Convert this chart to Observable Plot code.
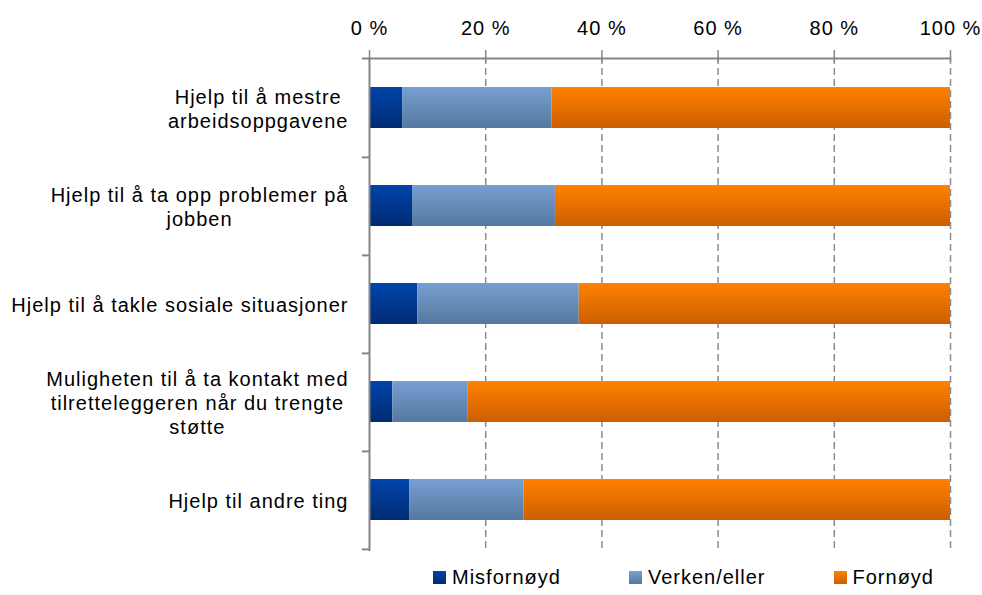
<!DOCTYPE html>
<html><head><meta charset="utf-8">
<script src="https://cdn.jsdelivr.net/npm/d3@7"></script>
<script src="https://cdn.jsdelivr.net/npm/@observablehq/plot@0.6"></script>
<style>
html,body{margin:0;padding:0;background:#fff;}
body{width:982px;height:595px;overflow:hidden;font-family:"Liberation Sans",Arial,sans-serif;}
#legend{display:flex;align-items:center;height:35px;padding-left:433px;font-size:20px;letter-spacing:1px;color:#000;}
.item{display:flex;align-items:center;margin-right:68px;}
.sw{width:13px;height:13px;margin-right:6px;}
</style>
</head><body>
<div id="chart"></div>
<div id="legend"></div>
<script>
const categories = [
  "Hjelp til å mestre\narbeidsoppgavene",
  "Hjelp til å ta opp problemer på\njobben",
  "Hjelp til å takle sosiale situasjoner",
  "Muligheten til å ta kontakt med\ntilretteleggeren når du trengte\nstøtte",
  "Hjelp til andre ting"
];
const seriesNames = ["Misfornøyd", "Verken/eller", "Fornøyd"];
const misfornoyd  = [5.7, 7.4, 8.3, 4.0, 6.9];
const verkenEller = [25.7, 24.6, 27.8, 13.0, 19.7];
const fornoyd     = [68.6, 68.0, 63.9, 83.0, 73.4];
const xTicks = [0, 20, 40, 60, 80, 100];
const gradTop    = ["#0044ab", "#789fd3", "#ff8200"];
const gradBottom = ["#002b73", "#54789e", "#cc5e00"];
const gradIds = ["gMis", "gVer", "gFor"];

const seriesValues = [misfornoyd, verkenEller, fornoyd];
const data = [];
seriesNames.forEach((s, si) => categories.forEach((c, ci) => data.push({category: c, series: s, value: seriesValues[si][ci]})));

const W = 982, H = 560, mT = 57, mB = 9, mL = 369, mR = 32;
const innerH = H - mT - mB;
const step = innerH / categories.length;
const axisColor = "#868686";

const plot = Plot.plot({
  width: W, height: H,
  marginTop: mT, marginBottom: mB, marginLeft: mL, marginRight: mR,
  style: {fontFamily: '"Liberation Sans", Arial, sans-serif', fontSize: "20px", color: "#000", background: "#fff", letterSpacing: "1px", overflow: "visible"},
  x: {domain: [0, 100], label: null},
  y: {domain: categories, paddingInner: 0.58, paddingOuter: 0.29, label: null},
  color: {domain: seriesNames, range: gradIds.map(id => `url(#${id})`)},
  marks: [
    Plot.gridX(xTicks.slice(1), {stroke: "#8c8c8c", strokeOpacity: 1, strokeWidth: 1.5, strokeDasharray: "7,4"}),
    Plot.barX(data, Plot.stackX({x: "value", y: "category", fill: "series", order: seriesNames})),
    Plot.ruleX([0], {stroke: axisColor, strokeWidth: 2}),
    Plot.ruleY([categories[0]], {x1: 0, x2: 100, insetLeft: -7, dy: -step / 2, stroke: axisColor, strokeWidth: 2}),
    Plot.ruleY(categories, {x1: 0, x2: 0, insetLeft: -7, dy: step / 2, stroke: axisColor, strokeWidth: 2}),
    Plot.ruleX(xTicks, {insetTop: -7, insetBottom: innerH - 5, stroke: axisColor, strokeWidth: 1.5}),
    Plot.axisX(xTicks, {anchor: "top", tickSize: 0, tickPadding: 23, tickFormat: d => d + " %", label: null}),
    Plot.axisY({anchor: "left", tickSize: 0, tickPadding: 21, lineHeight: 1.2, label: null})
  ]
});

document.getElementById("chart").appendChild(plot);

const svg = d3.select(plot);
const defs = svg.insert("defs", ":first-child");
gradIds.forEach((id, i) => {
  const g = defs.append("linearGradient").attr("id", id).attr("x1", 0).attr("y1", 0).attr("x2", 0).attr("y2", 1);
  g.append("stop").attr("offset", "0%").attr("stop-color", gradTop[i]);
  g.append("stop").attr("offset", "100%").attr("stop-color", gradBottom[i]);
});

// center-align multi-line y labels within their block (block right-aligned)
svg.selectAll('g[aria-label="y-axis tick label"] text').each(function() {
  const w = this.getBBox().width;
  const t = d3.select(this);
  t.attr("text-anchor", "middle");
  t.attr("transform", (t.attr("transform") || "") + ` translate(${-w / 2},0)`);
});

const legend = d3.select("#legend");
seriesNames.forEach((s, i) => {
  const it = legend.append("div").attr("class", "item");
  it.append("div").attr("class", "sw").style("background", `linear-gradient(${gradTop[i]}, ${gradBottom[i]})`);
  it.append("span").text(s);
});
</script>
</body></html>
